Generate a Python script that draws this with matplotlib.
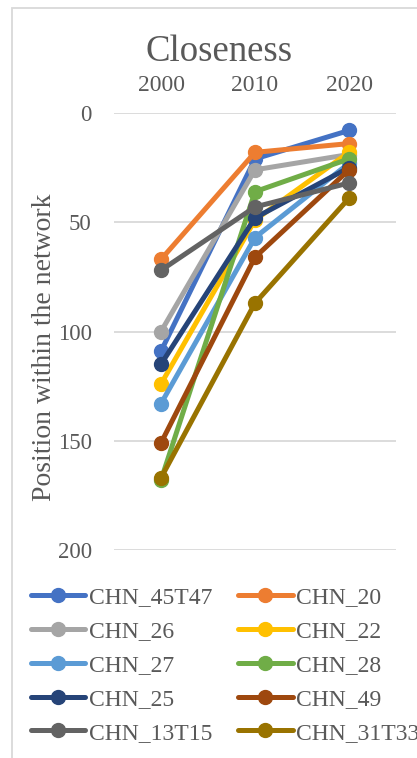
import matplotlib
matplotlib.use('Agg')
import matplotlib.pyplot as plt
from matplotlib.patches import Rectangle

plt.rcParams['font.family'] = ['Liberation Serif', 'DejaVu Serif']

years = ['2000', '2010', '2020']
series_names = ['CHN_45T47', 'CHN_20', 'CHN_26', 'CHN_22', 'CHN_27',
                'CHN_28', 'CHN_25', 'CHN_49', 'CHN_13T15', 'CHN_31T33']
series_colors = ['#4472C4', '#ED7D31', '#A5A5A5', '#FFC000', '#5B9BD5',
                 '#70AD47', '#264478', '#9E480E', '#636363', '#997300']

# position in network (rank)
chn_45t47 = [109, 21, 8]
chn_20 = [67, 18, 14]
chn_26 = [100, 26, 19]
chn_22 = [124, 49, 18]
chn_27 = [133, 57, 23]
chn_28 = [168, 36, 21]
chn_25 = [115, 48, 25]
chn_49 = [151, 66, 26]
chn_13t15 = [72, 43, 32]
chn_31t33 = [167, 87, 39]
values = [chn_45t47, chn_20, chn_26, chn_22, chn_27,
          chn_28, chn_25, chn_49, chn_13t15, chn_31t33]

text_color = '#595959'
grid_color = '#D9D9D9'

fig = plt.figure(figsize=(4.17, 7.58), dpi=100)
ax = fig.add_axes([114 / 417, 1 - 550 / 758, 282 / 417, 437 / 758])

handles = []
for name, vals, col in zip(series_names, values, series_colors):
    h, = ax.plot(range(len(years)), vals, color=col, lw=3.6, marker='o',
                 markersize=10, label=name, solid_capstyle='round')
    handles.append(h)

ax.set_xlim(-0.5, 2.5)
ax.set_ylim(200, 0)
ax.set_yticks([0, 50, 100, 150, 200])
ax.set_xticks(range(len(years)))
ax.set_xticklabels(years)
ax.xaxis.tick_top()
ax.tick_params(axis='x', length=0, pad=12, labelsize=17, colors=text_color)
ax.tick_params(axis='y', length=0, pad=16, labelsize=16.5, colors=text_color)
ax.grid(axis='y', color=grid_color, lw=1.3)
ax.set_axisbelow(True)
for s in ax.spines.values():
    s.set_visible(False)

# axis title placed like the Excel one (a bit below the plot centre)
fig.text(45 / 417, 1 - 347 / 758, 'Position within the network', fontsize=20,
         color=text_color, rotation=90, ha='center', va='center')
fig.text(219 / 417, 1 - 52 / 758, 'Closeness', fontsize=26.5, color=text_color,
         ha='center', va='center')

# chart frame (cropped on the right and bottom)
fig.patches.append(Rectangle((12 / 417, -0.1), 1.2, 1 - 8 / 758 + 0.1,
                             transform=fig.transFigure, fill=False,
                             edgecolor=grid_color, lw=1.3))

order = [0, 2, 4, 6, 8, 1, 3, 5, 7, 9]
leg = fig.legend([handles[i] for i in order], [series_names[i] for i in order],
                 loc='upper left', bbox_to_anchor=(31 / 417, 1 - 587 / 758),
                 ncol=2, frameon=False, fontsize=17, handlelength=2.3,
                 handletextpad=0.15, columnspacing=1.1, labelspacing=0.52,
                 borderaxespad=0, borderpad=0)
for t in leg.get_texts():
    t.set_color(text_color)

fig.savefig('out.png', dpi=100)
